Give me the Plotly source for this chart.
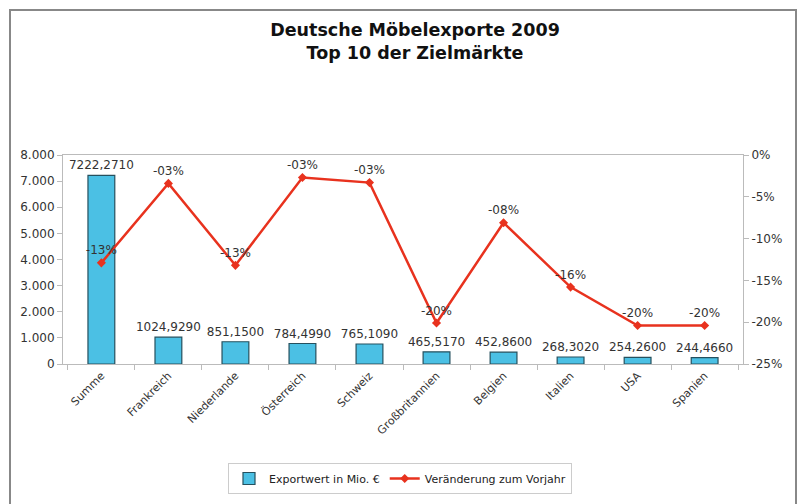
import plotly.graph_objects as go

categories = ["Summe", "Frankreich", "Niederlande", "Österreich", "Schweiz",
              "Großbritannien", "Belgien", "Italien", "USA", "Spanien"]
export_values = [7222.2710, 1024.9290, 851.1500, 784.4990, 765.1090,
                 465.5170, 452.8600, 268.3020, 254.2600, 244.4660]
change_pct = [-12.9, -3.4, -13.2, -2.7, -3.3, -20.1, -8.1, -15.8, -20.4, -20.4]

left_ticks = [0, 1000, 2000, 3000, 4000, 5000, 6000, 7000, 8000]
right_ticks = [0, -5, -10, -15, -20, -25]
right_tick_labels = ["0%", "-5%", "-10%", "-15%", "-20%", "-25%"]

change_text = ["-%02d%%" % round(abs(v)) if v < 0 else "%02d%%" % round(v) for v in change_pct]

L, R, T, B = 63, 61, 155, 140
W, H = 804, 504
pw, ph = W - L - R, H - T - B

def px(x):
    return (x - L) / pw

def py(y):
    return (H - B - y) / ph

fig = go.Figure()
fig.add_trace(go.Bar(
    x=categories, y=export_values, name="Exportwert in Mio. €",
    marker=dict(color="#4BC0E4", line=dict(color="#25505E", width=1.2)),
    width=0.4,
    texttemplate="%{y:.4f}", textposition="outside", constraintext="none",
    textfont=dict(family="DejaVu Sans", size=12, color="#333"),
    cliponaxis=False,
))
fig.add_trace(go.Scatter(
    x=categories, y=change_pct, yaxis="y2", name="Veränderung zum Vorjahr",
    mode="lines+markers+text",
    line=dict(color="#E8321E", width=2.5),
    marker=dict(symbol="diamond", size=7, color="#E8321E"),
    text=change_text, textposition="top center",
    textfont=dict(family="DejaVu Sans", size=12, color="#333"),
    cliponaxis=False,
))

fig.update_layout(
    width=W, height=H,
    margin=dict(l=L, r=R, t=T, b=B, autoexpand=False),
    paper_bgcolor="white", plot_bgcolor="white",
    separators=",.",
    font=dict(family="DejaVu Sans", size=12, color="#333"),
    title=dict(
        text="<b>Deutsche Möbelexporte 2009<br>Top 10 der Zielmärkte</b>",
        x=415 / W, xref="container", xanchor="center",
        y=1 - 36 / H, yref="container", yanchor="top",
        font=dict(family="DejaVu Sans", size=17.5, color="#111"),
    ),
    xaxis=dict(
        tickangle=-45, tickson="boundaries", ticks="outside", ticklen=5,
        tickcolor="#bbb", showline=True, linecolor="#bbb", mirror=True,
        showgrid=False, tickfont=dict(family="DejaVu Sans", size=11, color="#333"),
    ),
    yaxis=dict(
        range=[0, 8000], tickvals=left_ticks, tickformat=",.0f",
        ticks="outside", ticklen=5, tickcolor="#bbb",
        showline=True, linecolor="#bbb", showgrid=False, zeroline=False,
        tickfont=dict(family="DejaVu Sans", size=12, color="#333"),
    ),
    yaxis2=dict(
        range=[-25, 0], tickvals=right_ticks, ticktext=right_tick_labels,
        overlaying="y", side="right", ticks="outside", ticklen=5, tickcolor="#bbb",
        showline=True, linecolor="#bbb", showgrid=False, zeroline=False,
        tickfont=dict(family="DejaVu Sans", size=12, color="#333"),
    ),
    legend=dict(
        orientation="h", x=px(400), xanchor="center", y=py(463), yanchor="top",
        bordercolor="#ccc", borderwidth=1,
        font=dict(family="DejaVu Sans", size=11, color="#222"),
        itemwidth=30,
    ),
    showlegend=True,
    shapes=[dict(
        type="rect", xref="paper", yref="paper",
        x0=px(10), x1=px(796), y0=py(520), y1=py(10),
        line=dict(color="#888", width=2), layer="below",
    )],
)

fig.write_html("out.html", config={"displayModeBar": False},
               post_script="document.body.style.margin='0';")
